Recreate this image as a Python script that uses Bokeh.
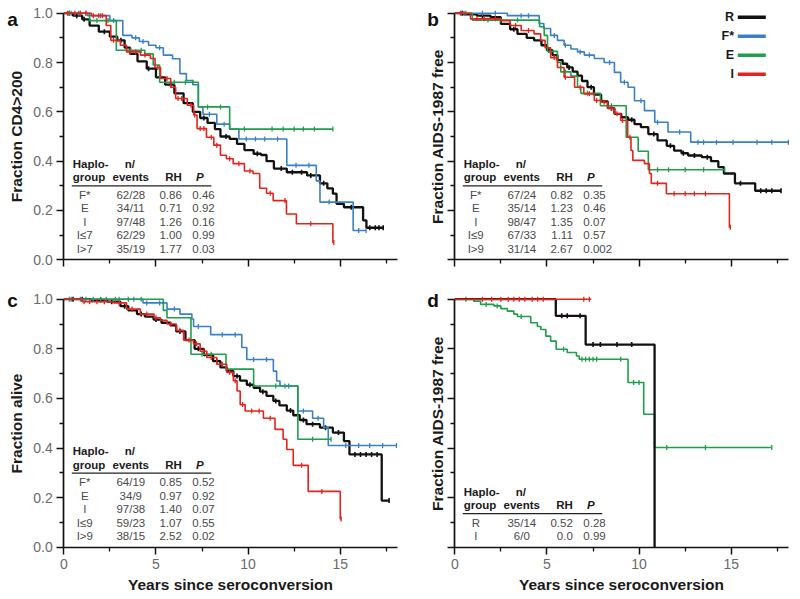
import numpy as np
from bokeh.plotting import figure
from bokeh.models import Range1d, FixedTicker, PrintfTickFormatter, CustomJSTickFormatter, Label
from bokeh.layouts import column, row
from bokeh.embed import file_html
from bokeh.resources import INLINE

FONT = "Liberation Sans"
GROUPS = ["R", "F*", "E", "I"]
COLORS = {"R": "#111111", "F*": "#3a80c6", "E": "#1f9e4b", "I": "#e3241c"}
WIDTHS = {"R": 2.3, "F*": 1.6, "E": 1.6, "I": 1.6}

# ---------------- panel a : Fraction CD4>200 ----------------
a_R_t = [0, 0.5, 1.0, 1.4, 1.9, 2.5, 2.9, 3.3, 3.6, 4.0, 4.5, 5.0, 5.5, 6.0, 6.5, 7.0, 7.4, 7.8, 8.2, 8.5, 9.0, 9.4,
         9.8, 10.3, 10.7, 11.0, 11.4, 12.1, 13.2, 13.9, 14.3, 14.6, 14.8, 15.2, 16.24, 16.42, 17.33]
a_R_s = [1.0, 0.99, 0.975, 0.95, 0.925, 0.905, 0.89, 0.86, 0.835, 0.805, 0.775, 0.74, 0.71, 0.675, 0.635, 0.60, 0.575,
         0.555, 0.53, 0.50, 0.49, 0.47, 0.445, 0.43, 0.425, 0.40, 0.37, 0.355, 0.342, 0.31, 0.29, 0.268, 0.227, 0.213,
         0.16, 0.13, 0.13]
a_R_c = [0.3, 0.7, 1.1, 2.2, 3.1, 4.6, 5.8, 7.6, 8.8, 10.5, 11.8, 12.4, 12.9, 13.4, 14.1, 15.6, 16.6, 16.9, 17.1, 17.33]
a_F_t = [0, 1.3, 2.5, 3.2, 3.7, 4.1, 4.6, 5.0, 5.4, 5.9, 6.3, 6.65, 7.0, 7.3, 7.55, 8.3, 9.0, 9.5, 12.1, 13.7, 13.9,
         15.7, 16.4]
a_F_s = [1.0, 0.99, 0.97, 0.91, 0.9, 0.885, 0.87, 0.86, 0.83, 0.815, 0.755, 0.727, 0.71, 0.62, 0.59, 0.55, 0.53, 0.49,
         0.383, 0.32, 0.234, 0.119, 0.119]
a_F_c = [0.4, 0.8, 1.2, 2.0, 2.7, 3.9, 4.3, 5.2, 7.9, 8.7, 9.9, 10.4, 10.9, 11.6, 12.6, 13.3, 14.4, 16.0, 16.4]
a_E_t = [0, 1.4, 2.85, 4.4, 4.85, 5.2, 7.3, 9.0, 14.6]
a_E_s = [1.0, 0.97, 0.85, 0.835, 0.79, 0.72, 0.62, 0.53, 0.53]
a_E_c = [0.3, 0.9, 1.8, 2.4, 3.6, 4.2, 6.0, 6.6, 7.0, 7.8, 8.5, 9.8, 11.3, 11.9, 12.5, 13.0, 13.6, 14.6]
a_I_t = [0, 1.5, 2.3, 2.55, 3.07, 3.4, 4.16, 4.7, 4.95, 5.25, 5.8, 6.07, 6.7, 7.05, 7.23, 7.74, 8.14, 8.5, 8.82, 9.19,
         9.8, 10.27, 10.63, 11.0, 11.36, 12.08, 12.62, 14.6, 14.65]
a_I_s = [1.0, 0.99, 0.95, 0.89, 0.87, 0.843, 0.83, 0.816, 0.78, 0.735, 0.70, 0.654, 0.627, 0.587, 0.532, 0.497, 0.465,
         0.424, 0.41, 0.39, 0.36, 0.35, 0.29, 0.27, 0.24, 0.186, 0.146, 0.07, 0.07]
a_I_c = [0.2, 0.6, 0.9, 1.2, 1.6, 1.9, 2.1, 2.7, 3.6, 3.9, 4.4, 5.1, 5.6, 6.2, 6.4, 6.9, 7.1, 7.4, 7.6, 8.0, 8.3, 9.0,
         9.5, 10.1, 11.2, 12.0, 13.4, 14.65]
a_tab_group = ["F*", "E", "I", "I\u22647", "I>7"]
a_tab_nev = ["62/28", "34/11", "97/48", "62/29", "35/19"]
a_tab_rh = ["0.86", "0.71", "1.26", "1.00", "1.77"]
a_tab_p = ["0.46", "0.92", "0.16", "0.99", "0.03"]

# ---------------- panel b : Fraction AIDS-1987 free ----------------
b_R_t = [0, 0.5, 1.2, 1.94, 2.5, 3.0, 3.4, 3.9, 4.3, 4.7, 5.0, 5.3, 5.57, 5.85, 6.1, 6.4, 6.66, 6.9, 7.2, 7.55, 7.94,
         8.3, 8.66, 9.03, 9.4, 9.75, 10.1, 10.5, 11.0, 11.5, 11.9, 12.3, 12.66, 13.4, 13.9, 14.3, 14.6, 15.2, 16.3,
         17.7]
b_R_s = [1.0, 0.995, 0.99, 0.984, 0.957, 0.935, 0.916, 0.90, 0.89, 0.87, 0.85, 0.83, 0.81, 0.795, 0.78, 0.763, 0.747,
         0.725, 0.70, 0.67, 0.642, 0.615, 0.592, 0.578, 0.568, 0.55, 0.538, 0.51, 0.484, 0.462, 0.443, 0.432, 0.423,
         0.416, 0.40, 0.376, 0.35, 0.31, 0.28, 0.28]
b_R_c = [0.4, 1.5, 3.2, 5.1, 6.2, 7.4, 8.5, 9.6, 10.8, 11.7, 12.4, 13.0, 13.7, 15.5, 16.6, 16.9, 17.2, 17.7]
b_F_t = [0, 2.85, 4.58, 4.83, 5.2, 5.57, 5.93, 6.3, 6.66, 7.03, 7.57, 8.1, 8.66, 9.0, 9.4, 9.75, 10.29, 10.85, 11.57,
         12.8, 18.1]
b_F_s = [1.0, 0.99, 0.958, 0.938, 0.91, 0.89, 0.87, 0.855, 0.843, 0.83, 0.816, 0.80, 0.76, 0.72, 0.70, 0.645, 0.605,
         0.558, 0.518, 0.477, 0.477]
b_F_c = [0.6, 1.5, 2.2, 3.6, 4.0, 5.4, 6.0, 6.8, 7.3, 8.4, 9.2, 10.1, 11.0, 12.2, 13.2, 13.5, 14.2, 15.1, 16.4, 17.2,
         18.1]
b_E_t = [0, 0.95, 4.6, 4.85, 5.03, 5.57, 5.75, 6.3, 6.66, 6.84, 7.9, 9.3, 9.95, 10.5, 14.65]
b_E_s = [1.0, 0.972, 0.945, 0.91, 0.845, 0.80, 0.762, 0.745, 0.70, 0.675, 0.625, 0.497, 0.44, 0.365, 0.365]
b_E_c = [0.5, 1.8, 2.5, 3.4, 6.0, 7.2, 8.5, 11.0, 11.6, 12.5, 13.5, 14.65]
b_I_t = [0, 0.85, 2.5, 3.0, 3.6, 4.3, 4.66, 4.9, 5.2, 5.57, 5.93, 6.5, 7.0, 7.57, 7.94, 8.3, 8.66, 9.0, 9.38, 9.56,
         9.66, 10.29, 10.56, 10.66, 11.48, 14.9, 14.95]
b_I_s = [1.0, 0.977, 0.97, 0.95, 0.93, 0.916, 0.89, 0.86, 0.82, 0.78, 0.74, 0.70, 0.673, 0.646, 0.639, 0.615, 0.592,
         0.565, 0.497, 0.443, 0.403, 0.39, 0.35, 0.31, 0.268, 0.132, 0.132]
b_I_c = [0.3, 1.2, 1.6, 2.2, 3.3, 4.0, 5.4, 6.0, 6.8, 7.3, 7.7, 8.1, 8.5, 8.8, 9.1, 9.5, 11.0, 11.9, 12.5, 13.0, 13.6,
         14.95]
b_tab_group = ["F*", "E", "I", "I\u22649", "I>9"]
b_tab_nev = ["67/24", "35/14", "98/47", "67/33", "31/14"]
b_tab_rh = ["0.82", "1.23", "1.35", "1.11", "2.67"]
b_tab_p = ["0.35", "0.46", "0.07", "0.57", "0.002"]

# ---------------- panel c : Fraction alive ----------------
c_R_t = [0, 1.5, 2.35, 3.07, 3.5, 3.97, 4.4, 4.87, 5.3, 5.78, 6.1, 6.6, 7.1, 7.6, 8.1, 8.5, 8.84, 9.2, 9.56, 9.93,
         10.3, 10.65, 11.0, 11.37, 11.7, 12.1, 12.45, 12.8, 13.17, 13.9, 14.6, 15.2, 15.5, 17.25, 17.65]
c_R_s = [1.0, 0.997, 0.99, 0.972, 0.955, 0.94, 0.93, 0.918, 0.905, 0.895, 0.87, 0.835, 0.80, 0.775, 0.75, 0.725,
         0.71, 0.69, 0.672, 0.655, 0.643, 0.627, 0.61, 0.59, 0.572, 0.551, 0.532, 0.513, 0.496, 0.482, 0.462, 0.428,
         0.374, 0.188, 0.188]
c_R_c = [0.5, 1.0, 2.0, 2.6, 3.3, 4.2, 5.0, 6.3, 7.3, 8.3, 9.4, 10.1, 10.8, 11.5, 12.3, 13.0, 13.5, 14.2, 14.9, 15.8,
         16.1, 16.4, 16.7, 17.0, 17.65]
c_F_t = [0, 4.3, 5.6, 6.3, 6.95, 7.04, 7.97, 9.66, 9.93, 11.37, 11.55, 11.73, 12.7, 13.5, 14.1, 14.35, 18.05]
c_F_s = [1.0, 0.985, 0.96, 0.94, 0.92, 0.89, 0.857, 0.805, 0.757, 0.71, 0.67, 0.65, 0.549, 0.52, 0.482, 0.41, 0.41]
c_F_c = [0.3, 0.9, 1.6, 2.3, 3.0, 3.8, 4.5, 5.2, 6.0, 7.3, 8.6, 9.3, 10.3, 11.0, 12.0, 12.2, 13.0, 13.8, 15.3, 16.0,
         16.6, 17.3, 18.05]
c_E_t = [0, 5.4, 5.6, 6.9, 8.8, 10.3, 12.7, 14.5]
c_E_s = [1.0, 0.955, 0.925, 0.778, 0.718, 0.65, 0.435, 0.435]
c_E_c = [0.4, 1.2, 2.0, 2.8, 3.5, 4.2, 7.5, 8.0, 11.5, 13.5, 14.5]
c_I_t = [0, 1.0, 2.7, 3.4, 4.15, 4.9, 5.24, 5.6, 6.1, 6.5, 7.04, 7.4, 7.76, 8.3, 8.84, 9.2, 9.4, 9.57, 9.84, 10.83,
         11.46, 11.9, 12.1, 12.45, 13.26, 15.0, 15.05]
c_I_s = [1.0, 0.99, 0.985, 0.96, 0.94, 0.925, 0.915, 0.90, 0.875, 0.835, 0.82, 0.79, 0.765, 0.738, 0.705, 0.671, 0.63,
         0.575, 0.549, 0.52, 0.475, 0.435, 0.394, 0.33, 0.225, 0.114, 0.114]
c_I_c = [1.1, 1.4, 1.8, 2.2, 3.0, 3.7, 4.5, 5.0, 5.8, 6.3, 6.8, 7.2, 7.6, 8.0, 8.6, 9.0, 9.3, 9.7, 10.2, 10.6, 11.2,
         12.9, 14.0, 15.05]
c_tab_group = ["F*", "E", "I", "I\u22649", "I>9"]
c_tab_nev = ["64/19", "34/9", "97/38", "59/23", "38/15"]
c_tab_rh = ["0.85", "0.97", "1.40", "1.07", "2.52"]
c_tab_p = ["0.52", "0.92", "0.07", "0.55", "0.02"]

# ---------------- panel d : Fraction AIDS-1987 free ----------------
d_R_t = [0, 5.48, 7.1, 10.84]
d_R_s = [1.0, 0.933, 0.817, 0.0]
d_R_c = [5.8, 6.1, 6.8, 7.5, 7.9, 8.8, 9.6]
d_E_t = [0, 1.03, 1.4, 2.12, 2.5, 2.85, 3.2, 3.4, 4.12, 4.48, 4.67, 4.94, 5.2, 5.5, 6.1, 6.6, 6.75, 9.4, 10.25,
         10.84, 17.2]
d_E_s = [1.0, 0.992, 0.979, 0.973, 0.962, 0.952, 0.94, 0.93, 0.905, 0.89, 0.878, 0.851, 0.831, 0.798, 0.785, 0.771,
         0.758, 0.664, 0.536, 0.402, 0.402]
d_E_c = [0.6, 1.7, 2.3, 3.6, 5.9, 6.9, 7.1, 7.3, 7.5, 7.7, 9.0, 9.7, 10.0, 11.5, 13.6, 17.2]
d_I_t = [0, 7.4]
d_I_s = [1.0, 1.0]
d_I_c = [1.5, 2.0, 2.5, 2.9, 3.2, 3.5, 3.8, 4.2, 4.5, 4.8, 7.0, 7.3]
d_tab_group = ["R", "I"]
d_tab_nev = ["35/14", "6/0"]
d_tab_rh = ["0.52", "0.0"]
d_tab_p = ["0.28", "0.99"]

X_TICKS = [0, 5, 10, 15]
X_MINOR = [2.5, 7.5, 12.5, 17.5]
Y_TICKS = [0.0, 0.2, 0.4, 0.6, 0.8, 1.0]
Y_MINOR = [0.1, 0.3, 0.5, 0.7, 0.9]
X_MAX = 18.1          # end of the x axis line (years)
PX = 18.43            # pixels per year


def step_value(t, s, x):
    i = np.searchsorted(np.asarray(t), x, side="right") - 1
    return float(np.asarray(s)[max(i, 0)])


def make_panel(letter, ylabel, curves, table, top_row, left_col, legend=False):
    # geometry (pixels): the frame fills the whole figure, axes are pinned at 0
    gap_left = 63.3 if left_col else 54.3        # figure-left to the x=0 line
    fw = 400 if left_col else 398
    x0 = -gap_left / PX
    x1 = x0 + fw / PX
    if top_row:
        fh, pyu, top_gap = 290, 246.6, 12.7
    else:
        fh, pyu, top_gap = 308, 248.0, 8.7
    y1 = 1.0 + top_gap / pyu
    y0 = y1 - fh / pyu

    p = figure(frame_width=fw, frame_height=fh, x_range=Range1d(x0, x1), y_range=Range1d(y0, y1),
               output_backend="svg", toolbar_location=None, tools="",
               min_border_left=0, min_border_right=0, min_border_top=0, min_border_bottom=0,
               background_fill_color="white", border_fill_color="white")
    p.outline_line_color = None
    p.xgrid.visible = False
    p.ygrid.visible = False
    X = lambda px: px / PX
    Y = lambda px: px / pyu

    for ax in (p.xaxis[0], p.yaxis[0]):
        ax.axis_line_width = 1.7
        ax.axis_line_color = "#111111"
        ax.major_tick_line_width = 1.5
        ax.minor_tick_line_width = 1.3
        ax.major_tick_line_color = "#111111"
        ax.minor_tick_line_color = "#111111"
        ax.major_tick_in = 0
        ax.major_tick_out = 7
        ax.minor_tick_in = 0
        ax.minor_tick_out = 4
        ax.major_label_text_font = FONT
        ax.major_label_text_font_size = "14px"
        ax.major_label_text_color = "#6a6a6a"
        ax.axis_label_text_font = FONT
        ax.axis_label_text_font_size = "15.5px"
        ax.axis_label_text_font_style = "bold"
        ax.axis_label_text_color = "#1a1a1a"
    p.xaxis.ticker = FixedTicker(ticks=X_TICKS, minor_ticks=X_MINOR)
    p.yaxis.ticker = FixedTicker(ticks=Y_TICKS, minor_ticks=Y_MINOR)
    p.xaxis.bounds = (0, X_MAX)
    p.yaxis.bounds = (0, 1.0)
    p.yaxis.fixed_location = 0
    p.xaxis.fixed_location = 0
    p.yaxis.axis_label = ylabel
    if left_col:
        p.yaxis.formatter = PrintfTickFormatter(format="%.1f")
        p.yaxis.major_label_standoff = 4
        p.yaxis.axis_label_standoff = 5
    else:
        p.yaxis.formatter = CustomJSTickFormatter(code="return ''")
        p.yaxis.major_label_standoff = 0
        p.yaxis.axis_label_standoff = 2
    if top_row:
        p.xaxis.formatter = CustomJSTickFormatter(code="return ''")
        p.xaxis.major_label_standoff = 0
    else:
        p.xaxis.axis_label = "Years since seroconversion"
        p.xaxis.major_label_standoff = 5
        p.xaxis.axis_label_standoff = 3

    for g, t, s, c in curves:
        p.step(t, s, mode="after", line_color=COLORS[g], line_width=WIDTHS[g])
        cy = [step_value(t, s, x) for x in c]
        p.scatter(c, cy, marker="dash", size=5, angle=np.pi / 2, line_color=COLORS[g],
                  line_width=1.3 if g != "R" else 1.6)

    # panel letter
    p.add_layout(Label(x=X(-56.6 if left_col else -27.6), y=1.0 - Y(6 if top_row else 1), text=letter,
                       text_font=FONT, text_font_size="19px", text_font_style="bold", text_color="#111111",
                       text_align="left", text_baseline="alphabetic"))

    # table
    groups, nev, rh, pv = table
    n = len(groups)
    rows_y = [11 + 13.5 * (n - 1 - i) for i in range(n)]
    rule = rows_y[0] + 9
    grp = rule + 8.5
    hap = grp + 13.5

    def lab(text, xpx, ypx, align, style="normal", color="#4a4a4a"):
        p.add_layout(Label(x=X(xpx), y=Y(ypx), text=text, text_align=align, text_baseline="middle",
                           text_font=FONT, text_font_size="11.5px", text_font_style=style, text_color=color))

    lab("Haplo-", 9, hap, "left", "bold", "#1a1a1a")
    lab("group", 9, grp, "left", "bold", "#1a1a1a")
    lab("n/", 66, hap, "center", "bold", "#1a1a1a")
    lab("events", 67, grp, "center", "bold", "#1a1a1a")
    lab("RH", 118, grp, "right", "bold", "#1a1a1a")
    lab("P", 136, grp, "center", "bold italic", "#1a1a1a")
    p.segment(x0=[X(8)], y0=[Y(rule)], x1=[X(147.5)], y1=[Y(rule)], line_color="#222222", line_width=1.3)
    for i in range(n):
        lab(groups[i], 21, rows_y[i], "center")
        lab(nev[i], 67, rows_y[i], "center")
        lab(rh[i], 118, rows_y[i], "right")
        lab(pv[i], 128.5, rows_y[i], "left")

    if legend:
        offs = [4, 23, 42, 61]
        for g, off in zip(GROUPS, offs):
            yy = 1.0 - Y(off)
            p.add_layout(Label(x=X(279.2), y=yy, text=g, text_align="right", text_baseline="middle",
                               text_font=FONT, text_font_size="12.5px", text_font_style="bold",
                               text_color="#1a1a1a"))
            p.segment(x0=[X(283)], y0=[yy], x1=[X(311)], y1=[yy], line_color=COLORS[g], line_width=3.5)
    return p


pa = make_panel("a", "Fraction CD4>200",
                [("R", a_R_t, a_R_s, a_R_c), ("F*", a_F_t, a_F_s, a_F_c), ("E", a_E_t, a_E_s, a_E_c),
                 ("I", a_I_t, a_I_s, a_I_c)],
                (a_tab_group, a_tab_nev, a_tab_rh, a_tab_p), True, True)
pb = make_panel("b", "Fraction AIDS-1987 free",
                [("R", b_R_t, b_R_s, b_R_c), ("F*", b_F_t, b_F_s, b_F_c), ("E", b_E_t, b_E_s, b_E_c),
                 ("I", b_I_t, b_I_s, b_I_c)],
                (b_tab_group, b_tab_nev, b_tab_rh, b_tab_p), True, False, legend=True)
pc = make_panel("c", "Fraction alive",
                [("R", c_R_t, c_R_s, c_R_c), ("F*", c_F_t, c_F_s, c_F_c), ("E", c_E_t, c_E_s, c_E_c),
                 ("I", c_I_t, c_I_s, c_I_c)],
                (c_tab_group, c_tab_nev, c_tab_rh, c_tab_p), False, True)
pd_ = make_panel("d", "Fraction AIDS-1987 free",
                 [("E", d_E_t, d_E_s, d_E_c), ("R", d_R_t, d_R_s, d_R_c), ("I", d_I_t, d_I_s, d_I_c)],
                 (d_tab_group, d_tab_nev, d_tab_rh, d_tab_p), False, False)

layout = column(row(pa, pb, spacing=0), row(pc, pd_, spacing=0), spacing=0)
open("out.html", "w").write(file_html(layout, INLINE))
